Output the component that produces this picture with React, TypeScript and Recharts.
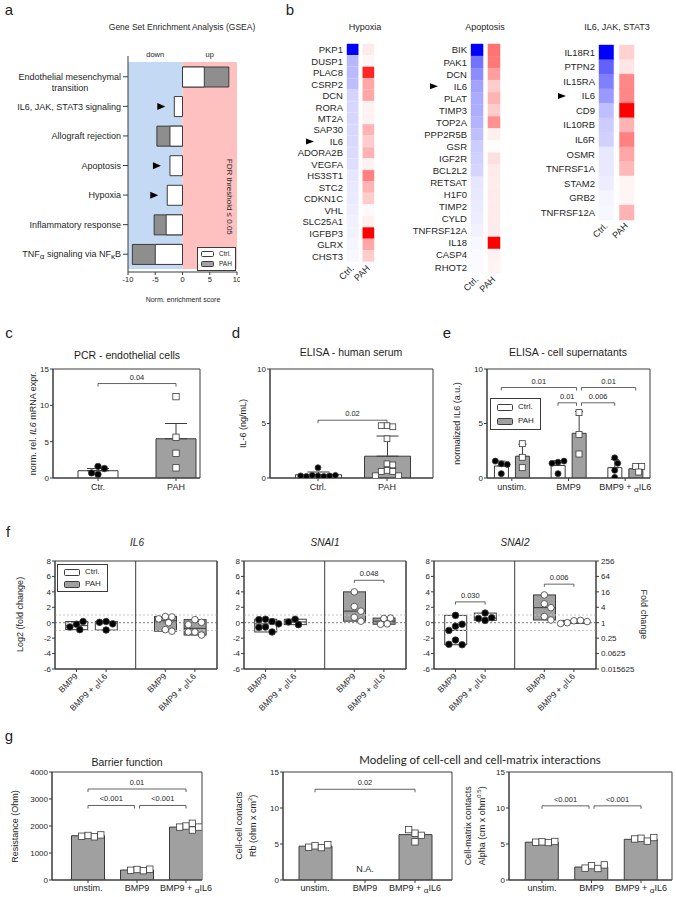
import React from "react";
import {
  BarChart,
  Bar,
  ComposedChart,
  Scatter,
  XAxis,
  YAxis,
  ReferenceLine,
  ReferenceArea,
  ReferenceDot,
  ErrorBar,
  Cell,
  LabelList,
  Legend,
} from "recharts";

const SANS = "'Liberation Sans', Arial, Helvetica, sans-serif";
const INK = "#3c3c3c";
const TXT = "#1e1e1e";
const BAR_GREY = "#a0a0a0";

// a - GSEA normalised enrichment scores
const gseaSets = [
  "Endothelial mesenchymal transition",
  "IL6, JAK, STAT3 signaling",
  "Allograft rejection",
  "Apoptosis",
  "Hypoxia",
  "Inflammatory response",
  "TNFα signaling via NFκB",
];
const gseaCtrl = [4.0, -1.5, -2.3, -2.3, -2.8, -3.0, -5.0];
const gseaPah = [8.5, null, -4.7, null, null, -5.2, -9.2];
const gseaMarked = ["IL6, JAK, STAT3 signaling", "Apoptosis", "Hypoxia"];
const nesTicks = [-10, -5, 0, 5, 10];
const legendKeys = ["Ctrl.", "PAH"];

// b - heatmaps, intensity 0..1 (blue = Ctrl., red = PAH)
const heatMarked = "IL6";
const hypoxiaGenes = ["PKP1", "DUSP1", "PLAC8", "CSRP2", "DCN", "RORA", "MT2A", "SAP30", "IL6", "ADORA2B", "VEGFA", "HS3ST1", "STC2", "CDKN1C", "VHL", "SLC25A1", "IGFBP3", "GLRX", "CHST3"];
const hypoxiaCtrl = [1.0, 0.28, 0.27, 0.26, 0.17, 0.16, 0.16, 0.15, 0.15, 0.14, 0.13, 0.1, 0.09, 0.08, 0.07, 0.06, 0.05, 0.04, 0.03];
const hypoxiaPah = [0.08, 0.03, 0.85, 0.35, 0.35, 0.05, 0.05, 0.3, 0.2, 0.3, 0.05, 0.5, 0.3, 0.2, 0.02, 0.06, 1.0, 0.35, 0.2];
const apoGenes = ["BIK", "PAK1", "DCN", "IL6", "PLAT", "TIMP3", "TOP2A", "PPP2R5B", "GSR", "IGF2R", "BCL2L2", "RETSAT", "H1F0", "TIMP2", "CYLD", "TNFRSF12A", "IL18", "CASP4", "RHOT2"];
const apoCtrl = [1.0, 0.55, 0.45, 0.36, 0.33, 0.32, 0.3, 0.25, 0.2, 0.18, 0.17, 0.1, 0.09, 0.08, 0.07, 0.05, 0.03, 0.02, 0.02];
const apoPah = [0.55, 0.53, 0.38, 0.2, 0.3, 0.2, 0.43, 0.06, 0.01, 0.12, 0.08, 0.07, 0.08, 0.08, 0.08, 0.08, 1.0, 0.05, 0.04];
const jakGenes = ["IL18R1", "PTPN2", "IL15RA", "IL6", "CD9", "IL10RB", "IL6R", "OSMR", "TNFRSF1A", "STAM2", "GRB2", "TNFRSF12A"];
const jakCtrl = [1.0, 0.62, 0.5, 0.4, 0.25, 0.2, 0.18, 0.09, 0.09, 0.07, 0.04, 0.03];
const jakPah = [0.18, 0.1, 0.47, 0.47, 1.0, 0.3, 0.5, 0.35, 0.28, 0.04, 0.04, 0.3];

// c - PCR endothelial cells
const cGroups = ["Ctr.", "PAH"];
const cMeans = [1.0, 5.4];
const cSems = [0.3, 2.1];
const cCtrPts = [1.6, 1.3, 0.5, 0.7];
const cPahPts = [11.2, 5.6, 3.4, 1.4];
const cBrackets = [{ from: [0, 0], to: [1, 0], at: 13.0, p: "0.04" }];

// d - ELISA human serum
const dGroups = ["Ctrl.", "PAH"];
const dMeans = [0.3, 2.0];
const dSems = [0.25, 1.85];
const dCtrlPts = [0.95, 0.2, 0.15, 0.25, 0.2, 0.15, 0.25, 0.2];
const dPahPts = [4.8, 4.7, 4.8, 3.6, 1.3, 1.2, 0.7, 0.6, 0.6, 0.2, 0.2];
const dBrackets = [{ from: [0, 0], to: [1, 0], at: 5.3, p: "0.02" }];

// e - ELISA cell supernatants
const eGroups = ["unstim.", "BMP9", "BMP9 + αIL6"];
const eCtrlMeans = [1.1, 1.15, 0.95];
const eCtrlErr = [0.45, 0.45, 0.75];
const ePahMeans = [2.0, 4.1, 0.85];
const ePahErr = [1.1, 2.0, 0.25];
const eCtrlPts = [[1.3, 1.25, 1.55, 0.4], [1.45, 1.55, 1.35, 0.4], [1.85, 1.35, 0.05, 0.7]];
const ePahPts = [[3.15, 1.9, 0.95], [6.0, 4.0, 2.2], [1.05, 1.05, 0.55]];
const eBrackets = [
  { from: [0, 0], to: [1, 1], at: 8.3, p: "0.01" },
  { from: [1, 1], to: [2, 1], at: 8.3, p: "0.01" },
  { from: [1, 0], to: [1, 1], at: 6.9, p: "0.01" },
  { from: [1, 1], to: [2, 0], at: 6.9, p: "0.006" },
];

// f - qPCR fold change (log2), groups: Ctrl BMP9, Ctrl BMP9+aIL6, PAH BMP9, PAH BMP9+aIL6
const fLabels = ["BMP9", "BMP9 + αIL6", "BMP9", "BMP9 + αIL6"];
const foldTicks = [-6, -4, -2, 0, 2, 4, 6, 8];
const il6Fold = [
  [-0.2, 0.15, -0.9, -0.55],
  [0.15, -0.95, -0.15, 0.05],
  [0.8, 0.75, 0.5, 0.0, -0.9, -1.1],
  [0.4, 0.05, -0.25, -1.2, -1.6, -1.2],
];
const snai1Fold = [
  [0.45, 0.15, 0.4, -0.55, -0.15, -1.2, -0.6],
  [0.45, -0.25, 0.1],
  [4.0, 2.1, 1.5, 0.7, 0.2],
  [0.55, 0.6, -0.15, -0.2],
];
const snai2Fold = [
  [0.95, -0.45, -0.2, -1.0, -2.25, -2.85, -2.8],
  [1.25, 0.3, 0.65, 0.55],
  [3.6, 2.45, 1.95, 0.8, 0.35],
  [0.25, 0.3, 0.0, 0.15, -0.1],
];
const snai1Brackets = [{ from: 2, to: 3, at: 5.5, p: "0.048" }];
const snai2Brackets = [
  { from: 0, to: 1, at: 2.7, p: "0.030" },
  { from: 2, to: 3, at: 5.0, p: "0.006" },
];

// g - ECIS barrier modelling
const gGroups = ["unstim.", "BMP9", "BMP9 + αIL6"];
const resistMeans = [1640, 370, 1960];
const resistPts = [[1650, 1600, 1620, 1670], [390, 345, 360, 400], [2000, 2100, 1850, 1960, 1960]];
const resistBrackets = [
  { from: [0, 0], to: [2, 0], at: 3370, p: "0.01" },
  { from: [0, 0], to: [1, 0], at: 2760, p: "<0.001" },
  { from: [1, 0], to: [2, 0], at: 2760, p: "<0.001" },
];
const rbMeans = [4.7, null, 6.3];
const rbPts = [[4.75, 4.5, 4.55, 4.9], [], [6.5, 6.2, 7.0, 5.3]];
const rbBrackets = [{ from: [0, 0], to: [2, 0], at: 12.6, p: "0.02" }];
const rbNote = { at: 1, y: 1.6, text: "N.A." };
const alphaMeans = [5.25, 1.8, 5.65];
const alphaPts = [[5.3, 5.2, 5.25, 5.35], [2.0, 1.6, 1.65, 2.1], [5.8, 5.4, 5.7, 5.9]];
const alphaBrackets = [
  { from: [0, 0], to: [1, 0], at: 10.3, p: "<0.001" },
  { from: [1, 0], to: [2, 0], at: 10.3, p: "<0.001" },
];

// ---------- helpers ----------
const blue = (v: number) => {
  const c = Math.round(255 * (1 - v));
  return `rgb(${c},${c},255)`;
};
const red = (v: number) => {
  const c = Math.round(255 * (1 - v));
  return `rgb(255,${c},${c})`;
};

function median(a: number[]) {
  const s = [...a].sort((x, y) => x - y);
  const m = Math.floor(s.length / 2);
  return s.length % 2 ? s[m] : (s[m - 1] + s[m]) / 2;
}

// simple beeswarm: returns x offsets (axis units) for each value
function swarm(vals: number[], pxX: number, pxY: number, r: number) {
  const placed: { x: number; y: number }[] = [];
  return vals.map((v) => {
    const y = v * pxY;
    for (let k = 0; k < 40; k++) {
      const x = Math.ceil(k / 2) * (k % 2 ? 1 : -1) * r;
      if (placed.every((q) => Math.hypot(q.x - x, q.y - y) >= 1.9 * r)) {
        placed.push({ x, y });
        return x / pxX;
      }
    }
    return 0;
  });
}

function rich(s: string, fs: number) {
  const out: React.ReactNode[] = [];
  let down = false;
  s.split(/([ακ])/).forEach((part, i) => {
    if (!part) return;
    if (part === "α" || part === "κ") {
      out.push(<tspan key={i} dy={fs * 0.22} fontSize={fs * 0.9}>{part}</tspan>);
      down = true;
    } else if (down) {
      out.push(<tspan key={i} dy={-fs * 0.22} fontSize={fs}>{part}</tspan>);
      down = false;
    } else out.push(<tspan key={i}>{part}</tspan>);
  });
  return out;
}

function Txt({ x, y, fs = 10, rot = 0, lines = 1, children, style }: any) {
  const lh = fs * 1.2;
  const w = 320;
  const h = lh * lines;
  return (
    <div
      style={{
        position: "absolute",
        left: x - w / 2,
        top: y - h / 2,
        width: w,
        height: h,
        textAlign: "center",
        fontSize: fs,
        lineHeight: `${lh}px`,
        transform: rot ? `rotate(${rot}deg)` : undefined,
        whiteSpace: "nowrap",
        color: TXT,
        ...style,
      }}
    >
      {children}
    </div>
  );
}

function KeyBox({ fs, sw, sh, rowH, pad }: any) {
  const fills = ["#fff", BAR_GREY];
  return (
    <div style={{ border: `1px solid ${INK}`, background: "#fff", padding: pad, fontFamily: SANS, fontSize: fs, color: TXT, lineHeight: `${rowH}px` }}>
      {legendKeys.map((k, i) => (
        <div key={k} style={{ display: "flex", alignItems: "center", whiteSpace: "nowrap" }}>
          <span style={{ display: "inline-block", width: sw, height: sh, border: `1px solid ${INK}`, background: fills[i], marginRight: 5, borderRadius: 1.5 }} />
          {k}
        </div>
      ))}
    </div>
  );
}

const FlatTick = (p: any) => (
  <text x={p.x} y={p.y} dy={p.fs * 0.8} textAnchor="middle" fontSize={p.fs} fill={TXT} fontFamily={SANS}>
    {rich(p.fmt(p.payload.value), p.fs)}
  </text>
);

const RotTick = (p: any) => (
  <text
    x={p.x}
    y={p.y}
    dy={p.fs * 0.3}
    transform={`rotate(-45 ${p.x} ${p.y})`}
    textAnchor="end"
    fontSize={p.fs}
    fill={TXT}
    fontFamily={SANS}
  >
    {rich(p.fmt(p.payload.value), p.fs)}
  </text>
);

const GeneTick = (p: any) => {
  const g = p.payload.value;
  return (
    <g>
      <text x={p.x} y={p.y} dy={p.fs * 0.36} textAnchor="end" fontSize={p.fs} fill={TXT} fontFamily={SANS}>
        {g}
      </text>
      {g === heatMarked ? (
        <path d={`M${p.x - 37},${p.y - 3}L${p.x - 29},${p.y}L${p.x - 37},${p.y + 3}Z`} fill="#000" />
      ) : null}
    </g>
  );
};

const SetTick = (p: any) => {
  const s: string = p.payload.value;
  const fs = 9;
  if (s.length > 28) {
    const w = s.split(" ");
    return (
      <g fontFamily={SANS} fontSize={fs} fill={TXT}>
        <text x={p.x} y={p.y + 3}>
          <tspan textAnchor="end">{w.slice(0, 2).join(" ")}</tspan>
        </text>
        <text x={p.x - 51} y={p.y + 14} textAnchor="middle">
          {w.slice(2).join(" ")}
        </text>
      </g>
    );
  }
  return (
    <text x={p.x} y={p.y} dy={fs * 0.36} textAnchor="end" fontFamily={SANS} fontSize={fs} fill={TXT}>
      {rich(s, fs)}
    </text>
  );
};

const renderMarker = (p: any) => {
  if (!gseaMarked.includes(p.value)) return null;
  const b = p.viewBox && p.viewBox.width != null ? p.viewBox : p;
  const left = Math.min(b.x, b.x + b.width);
  const cy = b.y + b.height / 2;
  const tip = left - 9;
  return <path d={`M${tip - 8},${cy - 3.5}L${tip},${cy}L${tip - 8},${cy + 3.5}Z`} fill="#000" />;
};

const pLabel = (text: string) => (lp: any) => {
  const vb = lp.viewBox ?? {};
  const cx = vb.x1 != null ? (vb.x1 + vb.x2) / 2 : (vb.x ?? 0) + (vb.width ?? 0) / 2;
  const y = vb.y1 != null ? Math.min(vb.y1, vb.y2) : vb.y ?? 0;
  return (
    <text x={cx} y={y - 4} textAnchor="middle" fontSize={7.5} fill={TXT} fontFamily={SANS}>
      {text}
    </text>
  );
};

type Span = { a: number; b: number; at: number; p: string };
function bracketLines(list: Span[], drop: number, inset: number, tag: string) {
  return list.flatMap((s, i) => {
    const touches = (x: number) =>
      list.some((o, j) => j !== i && o.at === s.at && (Math.abs(o.a - x) < 1e-6 || Math.abs(o.b - x) < 1e-6));
    const xa = s.a + (touches(s.a) ? inset : 0);
    const xb = s.b - (touches(s.b) ? inset : 0);
    return [
      <ReferenceLine key={`${tag}h${i}`} segment={[{ x: xa, y: s.at }, { x: xb, y: s.at }]} stroke={INK} strokeWidth={0.8} label={pLabel(s.p)} />,
      <ReferenceLine key={`${tag}l${i}`} segment={[{ x: xa, y: s.at }, { x: xa, y: s.at - drop }]} stroke={INK} strokeWidth={0.8} />,
      <ReferenceLine key={`${tag}r${i}`} segment={[{ x: xb, y: s.at }, { x: xb, y: s.at - drop }]} stroke={INK} strokeWidth={0.8} />,
    ];
  });
}

const marker = (kind: string, fill: string, r: number) => (q: any) =>
  kind === "circle" ? (
    <circle cx={q.cx} cy={q.cy} r={r} fill={fill} stroke={INK} strokeWidth={0.8} />
  ) : (
    <rect x={q.cx - r} y={q.cy - r} width={2 * r} height={2 * r} fill={fill} stroke={INK} strokeWidth={0.8} />
  );

// ---------- panel a ----------
function GseaPanel() {
  const rows = gseaSets.map((s, i) => ({ set: s, ctrl: gseaCtrl[i], pah: gseaPah[i] }));
  const pad = { top: 6, bottom: 3 };
  return (
    <div style={{ position: "absolute", left: 0, top: 40 }}>
      <BarChart width={240} height={250} data={rows} layout="vertical" margin={{ top: 16, right: 3, bottom: 0, left: 0 }}>
        <XAxis type="number" domain={[-10, 10]} ticks={nesTicks} interval={0} height={18} tickSize={3} axisLine={{ stroke: INK }} tickLine={{ stroke: INK }} tick={{ fontSize: 7.5, fill: TXT, fontFamily: SANS }} />
        <YAxis yAxisId="c" type="category" dataKey="set" width={128} padding={pad} tickSize={5} tickMargin={2} interval={0} axisLine={{ stroke: INK }} tickLine={{ stroke: INK }} tick={<SetTick />} />
        <YAxis yAxisId="p" type="category" dataKey="set" hide padding={pad} />
        <ReferenceArea yAxisId="c" x1={-10} x2={0} fill="#c4daf4" fillOpacity={1} stroke="none" label={{ value: "down", position: "top", fontSize: 7.5, fill: TXT }} />
        <ReferenceArea yAxisId="c" x1={0} x2={10} fill="#ffc0c0" fillOpacity={1} stroke="none" label={{ value: "up", position: "top", fontSize: 7.5, fill: TXT }} />
        <Bar yAxisId="p" dataKey="pah" fill="#8e8e8e" stroke={INK} barSize={20} isAnimationActive={false} />
        <Bar yAxisId="c" dataKey="ctrl" fill="#fff" stroke={INK} barSize={20} isAnimationActive={false}>
          <LabelList dataKey="set" content={renderMarker} />
        </Bar>
        <Legend layout="vertical" align="center" verticalAlign="middle" wrapperStyle={{ left: 197, top: 207, width: "auto", height: "auto" }} content={() => <KeyBox fs={6.5} sw={11} sh={4} rowH={10} pad="1px 3px" />} />
      </BarChart>
    </div>
  );
}

// ---------- panel b ----------
const ctrlCell = () => 1;
const gapCell = () => 0.4;
const pahCell = () => 1;

function Heatmap(p: any) {
  const rows = p.genes.map((g: string, i: number) => ({ gene: g, ctrl: p.ctrl[i], pah: p.pah[i] }));
  const plotW = p.unit * 2.4;
  const plotH = p.rowH * p.genes.length;
  const padTop = 14;
  const xH = 34;
  const padRight = 18;
  return (
    <div style={{ position: "absolute", left: p.left, top: p.top - padTop }}>
      <BarChart width={p.labelW + plotW + padRight} height={padTop + plotH + xH} data={rows} layout="vertical" margin={{ top: padTop, right: padRight, bottom: 0, left: 0 }} barCategoryGap={0}>
        <XAxis type="number" domain={[0, 2.4]} ticks={[0.5, 1.9]} interval={0} height={xH} axisLine={false} tickLine={false} tickSize={0} tickMargin={5} tick={<RotTick fs={9} fmt={(v: number) => (v < 1 ? legendKeys[0] : legendKeys[1])} />} />
        <YAxis type="category" dataKey="gene" width={p.labelW} axisLine={false} tickLine={false} tickSize={0} tickMargin={4} interval={0} tick={<GeneTick fs={p.fs} />} />
        <Bar dataKey={ctrlCell} stackId="h" isAnimationActive={false}>
          {rows.map((r: any, i: number) => (
            <Cell key={i} fill={blue(r.ctrl)} stroke={blue(r.ctrl)} strokeWidth={0.4} />
          ))}
        </Bar>
        <Bar dataKey={gapCell} stackId="h" fill="none" isAnimationActive={false} />
        <Bar dataKey={pahCell} stackId="h" isAnimationActive={false}>
          {rows.map((r: any, i: number) => (
            <Cell key={i} fill={red(r.pah)} stroke={red(r.pah)} strokeWidth={0.4} />
          ))}
        </Bar>
      </BarChart>
    </div>
  );
}

// ---------- bar + dot panels (c, d, e, g) ----------
type Series = { means: (number | null)[]; errs?: number[]; pts: number[][]; fills: string[]; dots: string[][] };

function DotBar(p: any) {
  const labels: string[] = p.labels;
  const series: Series[] = p.series;
  const yDomain: [number, number] = p.yDomain;
  const n = labels.length;
  const pxX = (p.plotW - p.lead - p.trail) / Math.max(n - 1, 1);
  const xDom = [-p.lead / pxX, n - 1 + p.trail / pxX];
  const pxY = p.plotH / (yDomain[1] - yDomain[0]);
  const S = series.length;
  const gap = p.barGap ?? 0;
  const dx = (k: number) => ((k - (S - 1) / 2) * (p.barSize + gap)) / pxX;
  const table = labels.map((_, i) => {
    const row: any = { x: i };
    series.forEach((s, k) => {
      row[`m${k}`] = s.means[i];
      if (s.errs) row[`e${k}`] = [0, s.errs[i]];
    });
    return row;
  });
  const W = p.yW + p.plotW + p.padRight;
  const H = p.padTop + p.plotH + p.xH;
  const spans: Span[] = (p.brackets ?? []).map((b: any) => ({ a: b.from[0] + dx(b.from[1]), b: b.to[0] + dx(b.to[1]), at: b.at, p: b.p }));
  return (
    <div style={{ position: "absolute", left: p.left, top: p.top }}>
      <ComposedChart width={W} height={H} data={table} margin={{ top: p.padTop, right: p.padRight, bottom: 0, left: 0 }} barGap={gap}>
        <XAxis type="number" dataKey="x" domain={xDom} allowDataOverflow ticks={labels.map((_, i) => i)} interval={0} height={p.xH} tickSize={3} tickMargin={p.xMargin ?? 2} axisLine={{ stroke: INK }} tickLine={{ stroke: INK }} tick={<FlatTick fs={p.xFs ?? 9} fmt={(v: number) => labels[v]} />} />
        <XAxis xAxisId="s" type="number" dataKey="x" domain={xDom} allowDataOverflow hide />
        <YAxis type="number" domain={yDomain} allowDataOverflow ticks={p.yTicks} interval={0} width={p.yW} tickSize={3} tickMargin={1} axisLine={{ stroke: INK }} tickLine={{ stroke: INK }} tick={{ fontSize: 8, fill: TXT, fontFamily: SANS }} />
        <ReferenceArea x1={xDom[0]} x2={xDom[1]} y1={yDomain[0]} y2={yDomain[1]} fill="none" stroke={INK} strokeWidth={1} />
        {series.map((s, k) => (
          <Bar key={`b${k}`} dataKey={`m${k}`} barSize={p.barSize} stroke={INK} strokeWidth={1} isAnimationActive={false}>
            {labels.map((_, i) => (
              <Cell key={i} fill={s.fills[i]} />
            ))}
            {s.errs ? <ErrorBar dataKey={`e${k}`} width={p.cap} stroke={INK} strokeWidth={1} direction="y" /> : null}
          </Bar>
        ))}
        {series.flatMap((s, k) =>
          s.pts.map((vals, g) => {
            const off = swarm(vals, pxX, pxY, p.r);
            const data = vals.map((v, i) => ({ x: g + dx(k) + off[i], v }));
            return <Scatter key={`s${k}-${g}`} xAxisId="s" data={data} dataKey="v" shape={marker(s.dots[g][0], s.dots[g][1], p.r)} isAnimationActive={false} />;
          })
        )}
        {bracketLines(spans, 3 / pxY, 2.5 / pxX, "br")}
        {p.note ? (
          <ReferenceDot x={p.note.at} y={p.note.y} r={0} fill="none" stroke="none" label={{ value: p.note.text, position: "center", fontSize: 9, fill: TXT, fontFamily: SANS }} />
        ) : null}
        {p.legend ? (
          <Legend layout="vertical" align="center" verticalAlign="middle" wrapperStyle={{ left: p.legend[0], top: p.legend[1], width: "auto", height: "auto" }} content={() => <KeyBox fs={8} sw={14} sh={5} rowH={14} pad="1px 6px" />} />
        ) : null}
      </ComposedChart>
    </div>
  );
}

// ---------- panel f ----------
const fSlots = [0, 1, 3, 4];

const BoxShape = (q: any) => {
  const top = Math.min(q.y, q.y + q.height);
  const h = Math.abs(q.height);
  const [lo, hi] = q.payload.range;
  const my = hi > lo ? top + (h * (hi - q.payload.med)) / (hi - lo) : top;
  return (
    <g>
      <rect x={q.x} y={top} width={q.width} height={h} fill={q.payload.pah ? BAR_GREY : "#fff"} stroke={INK} strokeWidth={1} />
      <line x1={q.x} x2={q.x + q.width} y1={my} y2={my} stroke={INK} strokeWidth={1} />
    </g>
  );
};

function FoldPanel(p: any) {
  const plotW = 162;
  const plotH = 108;
  const yW = 20;
  const rW = p.rightLabels ? 45 : 8;
  const padTop = 11;
  const xH = 46;
  const pxX = 29.6;
  const x0 = -21.5 / pxX;
  const xDom = [x0, x0 + plotW / pxX];
  const pxY = plotH / 14;
  const groups: number[][] = p.groups;
  const table = groups.map((pts, g) => ({ x: fSlots[g], range: [Math.min(...pts), Math.max(...pts)], med: median(pts), pah: g >= 2 }));
  const spans: Span[] = (p.brackets ?? []).map((b: any) => ({ a: fSlots[b.from], b: fSlots[b.to], at: b.at, p: b.p }));
  const axis = { stroke: INK };
  return (
    <div style={{ position: "absolute", left: p.left, top: 550 }}>
      <ComposedChart width={yW + plotW + rW} height={padTop + plotH + xH} data={table} margin={{ top: padTop, right: 0, bottom: 0, left: 0 }}>
        <XAxis type="number" dataKey="x" domain={xDom} allowDataOverflow ticks={fSlots} interval={0} height={xH} tickSize={3} tickMargin={3} axisLine={axis} tickLine={axis} tick={<RotTick fs={8.5} fmt={(v: number) => fLabels[fSlots.indexOf(v)]} />} />
        <XAxis xAxisId="s" type="number" dataKey="x" domain={xDom} allowDataOverflow hide />
        <YAxis type="number" domain={[-6, 8]} allowDataOverflow ticks={foldTicks} interval={0} width={yW} tickSize={3} tickMargin={1} axisLine={axis} tickLine={axis} tick={{ fontSize: 8, fill: TXT, fontFamily: SANS }} />
        <YAxis yAxisId="r" orientation="right" type="number" domain={[-6, 8]} allowDataOverflow ticks={foldTicks} interval={0} width={rW} tickSize={3} tickMargin={2} axisLine={axis} tickLine={axis} tick={p.rightLabels ? { fontSize: 8, fill: TXT, fontFamily: SANS } : false} tickFormatter={(v: number) => String(Math.pow(2, v))} />
        <ReferenceArea x1={xDom[0]} x2={xDom[1]} y1={-6} y2={8} fill="none" stroke={INK} strokeWidth={1} />
        <ReferenceLine y={1} stroke="#c4c4c4" strokeDasharray="2 2" />
        <ReferenceLine y={-1} stroke="#c4c4c4" strokeDasharray="2 2" />
        <ReferenceLine yAxisId="r" y={0} stroke="#7a7a7a" strokeDasharray="2 2" />
        <ReferenceLine x={2} stroke={INK} strokeWidth={1} />
        <Bar dataKey="range" barSize={22} shape={BoxShape} isAnimationActive={false} />
        {groups.map((vals, g) => {
          const off = swarm(vals, pxX, pxY, 3.3);
          const data = vals.map((v, i) => ({ x: fSlots[g] + off[i], v }));
          return <Scatter key={g} xAxisId="s" data={data} dataKey="v" shape={marker("circle", g < 2 ? "#000" : "#fff", 3.3)} isAnimationActive={false} />;
        })}
        {bracketLines(spans, 0.35, 0, "f")}
        {p.legend ? (
          <Legend layout="vertical" align="center" verticalAlign="middle" wrapperStyle={{ left: 22, top: 14, width: "auto", height: "auto" }} content={() => <KeyBox fs={8} sw={14} sh={5} rowH={12} pad="1px 6px" />} />
        ) : null}
      </ComposedChart>
    </div>
  );
}

// ---------- page ----------
export default function App() {
  const white = "#fff";
  return (
    <div style={{ position: "absolute", left: 0, top: 0, width: 676, height: 897, overflow: "hidden", background: "#fff", fontFamily: SANS, color: TXT }}>
      {/* panel letters */}
      <Txt x={9} y={10} fs={15}>a</Txt>
      <Txt x={290} y={10} fs={15}>b</Txt>
      <Txt x={9} y={333} fs={15}>c</Txt>
      <Txt x={236} y={333} fs={15}>d</Txt>
      <Txt x={447} y={333} fs={15}>e</Txt>
      <Txt x={8} y={532} fs={15}>f</Txt>
      <Txt x={9} y={736} fs={15}>g</Txt>

      {/* a */}
      <Txt x={182} y={27} fs={8.5}>Gene Set Enrichment Analysis (GSEA)</Txt>
      <GseaPanel />
      <Txt x={183} y={300} fs={7}>Norm. enrichment score</Txt>
      <Txt x={229} y={197} fs={8} rot={90}>FDR threshold ≤ 0.05</Txt>

      {/* b */}
      <Txt x={365} y={27} fs={9}>Hypoxia</Txt>
      <Txt x={485} y={27} fs={9}>Apoptosis</Txt>
      <Txt x={617} y={27} fs={9}>IL6, JAK, STAT3</Txt>
      <Heatmap left={250} top={44} labelW={97} unit={11.25} rowH={11.47} fs={9.5} genes={hypoxiaGenes} ctrl={hypoxiaCtrl} pah={hypoxiaPah} />
      <Heatmap left={370} top={44} labelW={101} unit={12.1} rowH={12.06} fs={9.5} genes={apoGenes} ctrl={apoCtrl} pah={apoPah} />
      <Heatmap left={510} top={45} labelW={89} unit={14.6} rowH={14.55} fs={9.5} genes={jakGenes} ctrl={jakCtrl} pah={jakPah} />

      {/* c */}
      <Txt x={127} y={355} fs={10.5}>PCR - endothelial cells</Txt>
      <Txt x={33} y={423} fs={9} rot={-90}>
        norm. rel. <i>IL6</i> mRNA expr.
      </Txt>
      <DotBar left={33} top={360} yW={20} padTop={9} plotW={147} plotH={109} padRight={14} xH={20} labels={cGroups} lead={45} trail={24} yDomain={[0, 15]} yTicks={[0, 5, 10, 15]} barSize={40} cap={11} r={3.2} brackets={cBrackets}
        series={[{ means: cMeans, errs: cSems, pts: [cCtrPts, cPahPts], fills: [white, BAR_GREY], dots: [["circle", "#000"], ["square", white]] }]} />

      {/* d */}
      <Txt x={351} y={352} fs={10.5}>ELISA - human serum</Txt>
      <Txt x={243} y={423} fs={9} rot={-90}>IL-6 (ng/mL)</Txt>
      <DotBar left={250} top={360} yW={20} padTop={9} plotW={163} plotH={109} padRight={12} xH={20} labels={dGroups} lead={48} trail={46} yDomain={[0, 10]} yTicks={[0, 5, 10]} barSize={46} cap={11} r={2.9} brackets={dBrackets}
        series={[{ means: dMeans, errs: dSems, pts: [dCtrlPts, dPahPts], fills: [white, BAR_GREY], dots: [["circle", "#000"], ["square", white]] }]} />

      {/* e */}
      <Txt x={568} y={352} fs={10.5}>ELISA - cell supernatants</Txt>
      <Txt x={457} y={423} fs={9} rot={-90}>normalized IL6 (a.u.)</Txt>
      <DotBar left={467} top={360} yW={20} padTop={9} plotW={163} plotH={109} padRight={20} xH={20} labels={eGroups} lead={24.8} trail={24.8} yDomain={[0, 10]} yTicks={[0, 5, 10]} barSize={14} barGap={7} cap={4} r={3} brackets={eBrackets} legend={[23, 38]}
        series={[
          { means: eCtrlMeans, errs: eCtrlErr, pts: eCtrlPts, fills: [white, white, white], dots: [["circle", "#000"], ["circle", "#000"], ["circle", "#000"]] },
          { means: ePahMeans, errs: ePahErr, pts: ePahPts, fills: [BAR_GREY, BAR_GREY, BAR_GREY], dots: [["square", white], ["square", white], ["square", white]] },
        ]} />

      {/* f */}
      <Txt x={137} y={543} fs={10} style={{ fontStyle: "italic" }}>IL6</Txt>
      <Txt x={325} y={543} fs={10} style={{ fontStyle: "italic" }}>SNAI1</Txt>
      <Txt x={515} y={543} fs={10} style={{ fontStyle: "italic" }}>SNAI2</Txt>
      <Txt x={20} y={614} fs={9} rot={-90}>Log2 (fold change)</Txt>
      <Txt x={644} y={614} fs={9} rot={90}>Fold change</Txt>
      <FoldPanel left={35} groups={il6Fold} legend />
      <FoldPanel left={224} groups={snai1Fold} brackets={snai1Brackets} />
      <FoldPanel left={414} groups={snai2Fold} brackets={snai2Brackets} rightLabels />

      {/* g */}
      <Txt x={127} y={762} fs={10.5}>Barrier function</Txt>
      <Txt x={480} y={760} fs={11.5} style={{ fontFamily: "Lato, 'Open Sans', sans-serif" }}>
        Modeling of cell-cell and cell-matrix interactions
      </Txt>
      <Txt x={15} y={826} fs={9} rot={-90}>Resistance (Ohm)</Txt>
      <Txt x={245} y={826} fs={9} rot={-90} lines={2}>
        Cell-cell contacts
        <br />
        Rb (ohm x cm<sup style={{ fontSize: 6 }}>2</sup>)
      </Txt>
      <Txt x={474} y={826} fs={9} rot={-90} lines={2}>
        Cell-matrix contacts
        <br />
        Alpha (cm x ohm<sup style={{ fontSize: 6 }}>0.5</sup>)
      </Txt>
      <DotBar left={20} top={762} yW={32} padTop={10} plotW={150} plotH={108} padRight={24} xH={17} xMargin={1} labels={gGroups} lead={36} trail={16} yDomain={[0, 4000]} yTicks={[0, 1000, 2000, 3000, 4000]} barSize={33} r={3.2} brackets={resistBrackets}
        series={[{ means: resistMeans, pts: resistPts, fills: [BAR_GREY, BAR_GREY, BAR_GREY], dots: [["square", white], ["square", white], ["square", white]] }]} />
      <DotBar left={263} top={762} yW={20} padTop={10} plotW={169} plotH={108} padRight={14} xH={17} xMargin={1} labels={gGroups} lead={32} trail={37} yDomain={[0, 15]} yTicks={[0, 5, 10, 15]} barSize={33} r={3.2} brackets={rbBrackets} note={rbNote}
        series={[{ means: rbMeans, pts: rbPts, fills: [BAR_GREY, BAR_GREY, BAR_GREY], dots: [["square", white], ["square", white], ["square", white]] }]} />
      <DotBar left={489} top={762} yW={20} padTop={10} plotW={163} plotH={108} padRight={3} xH={17} xMargin={1} labels={gGroups} lead={33} trail={31} yDomain={[0, 15]} yTicks={[0, 5, 10, 15]} barSize={33} r={3.2} brackets={alphaBrackets}
        series={[{ means: alphaMeans, pts: alphaPts, fills: [BAR_GREY, BAR_GREY, BAR_GREY], dots: [["square", white], ["square", white], ["square", white]] }]} />
    </div>
  );
}
